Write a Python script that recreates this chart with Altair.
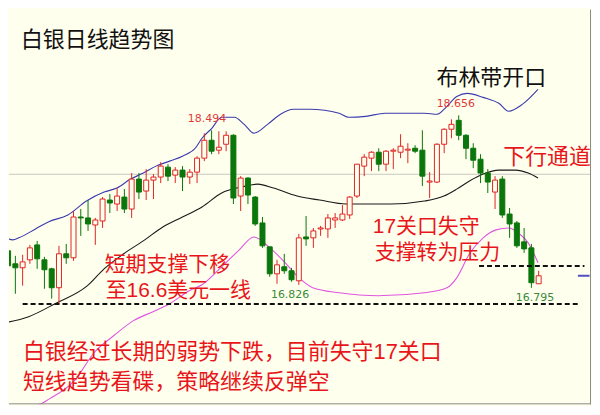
import altair as alt
import pandas as pd

BG = "#FFFFEE"
RED = "#E02424"
GREEN = "#0B760B"
TXT_RED = "#E8161B"
FONT = "Liberation Sans, Noto Sans CJK SC"

# ---- daily candles (price) ----
opens = [17.194, 17.054, 17.011, 17.097, 17.258, 17.097, 17.000, 16.796, 17.162, 17.119,
         17.559, 17.549, 17.473, 17.516, 17.742, 17.699, 17.774, 17.645, 17.968, 17.839,
         17.957, 17.990, 18.097, 18.011, 18.065, 17.990, 18.043, 18.194, 18.387, 18.280,
         18.344, 18.441, 17.785, 17.979, 17.774, 17.495, 17.237, 16.946, 17.022, 16.979,
         16.871, 17.344, 17.334, 17.430, 17.430, 17.527, 17.527, 17.581, 17.785, 18.108,
         18.194, 18.258, 18.129, 18.269, 18.258, 18.280, 18.301, 18.280, 17.936, 17.936,
         18.344, 18.506, 18.602, 18.441, 18.301, 18.183, 18.033, 17.828, 17.968, 17.591,
         17.495, 17.291, 17.226, 16.839]
highs = [17.334, 17.140, 17.151, 17.258, 17.301, 17.129, 17.011, 17.248, 17.269, 17.624,
         17.645, 17.742, 17.549, 17.774, 17.807, 17.871, 17.860, 18.033, 18.033, 18.076,
         18.022, 18.151, 18.129, 18.097, 18.108, 18.076, 18.215, 18.463, 18.494, 18.484,
         18.484, 18.452, 18.000, 17.990, 17.785, 17.559, 17.237, 17.097, 17.162, 17.011,
         17.377, 17.570, 17.441, 17.463, 17.591, 17.602, 17.688, 17.785, 18.129, 18.237,
         18.269, 18.301, 18.280, 18.301, 18.452, 18.355, 18.334, 18.495, 18.043, 18.355,
         18.516, 18.613, 18.656, 18.452, 18.355, 18.237, 18.076, 18.000, 18.000, 17.656,
         17.516, 17.441, 17.269, 16.979]
lows = [17.000, 16.731, 16.818, 17.054, 17.000, 16.785, 16.678, 16.624, 17.054, 17.086,
        17.355, 17.409, 17.258, 17.441, 17.602, 17.624, 17.602, 17.549, 17.753, 17.742,
        17.753, 17.925, 17.947, 17.925, 17.839, 17.914, 17.925, 18.162, 18.237, 18.237,
        18.269, 17.699, 17.624, 17.699, 17.463, 17.226, 16.914, 16.839, 16.946, 16.861,
        16.826, 17.248, 17.226, 17.355, 17.334, 17.441, 17.516, 17.538, 17.764, 18.000,
        18.054, 18.054, 18.054, 18.076, 18.194, 18.140, 18.248, 17.893, 17.764, 17.925,
        18.248, 18.409, 18.387, 18.183, 18.086, 17.925, 17.818, 17.645, 17.549, 17.334,
        17.226, 17.172, 16.795, 16.839]
closes = [17.033, 17.011, 17.075, 17.226, 17.108, 16.990, 16.796, 17.162, 17.119, 17.559,
          17.549, 17.484, 17.527, 17.753, 17.710, 17.785, 17.645, 17.968, 17.828, 17.957,
          17.990, 18.108, 18.000, 18.065, 17.990, 18.043, 18.194, 18.387, 18.269, 18.312,
          18.441, 17.764, 17.979, 17.796, 17.484, 17.248, 16.946, 17.043, 16.979, 16.882,
          17.334, 17.323, 17.409, 17.441, 17.549, 17.549, 17.591, 17.774, 18.129, 18.205,
          18.258, 18.129, 18.269, 18.280, 18.323, 18.291, 18.269, 18.000, 17.947, 18.344,
          18.506, 18.559, 18.441, 18.301, 18.172, 18.033, 17.936, 17.957, 17.581, 17.484,
          17.248, 17.215, 16.850, 16.925]

# ---- Bollinger bands (candle index, price) ----
upper_i = [-0.27, 0.67, 1.48, 3.77, 5.53, 8.22, 10.78, 13.21, 14.96, 16.85, 18.60, 20.35,
           22.24, 23.99, 25.74, 26.68, 28.03, 29.38, 31.13, 32.48, 33.83, 35.71, 37.47,
           39.22, 41.51, 45.55, 46.90, 49.19, 51.89, 54.99, 57.28, 59.03, 60.38, 61.73,
           63.20, 65.36, 67.52, 68.87, 70.75, 72.91]
upper_p = [17.334, 17.312, 17.334, 17.430, 17.506, 17.581, 17.731, 17.828, 17.871, 17.968,
           18.033, 18.108, 18.162, 18.215, 18.301, 18.409, 18.516, 18.635, 18.635, 18.559,
           18.463, 18.559, 18.667, 18.721, 18.721, 18.678, 18.635, 18.645, 18.678, 18.678,
           18.678, 18.667, 18.753, 18.860, 18.893, 18.850, 18.786, 18.700, 18.774, 18.936]
mid_i = [-0.27, 2.83, 6.47, 10.92, 13.21, 15.90, 18.60, 21.29, 23.99, 26.68, 29.38, 32.08,
         34.37, 36.52, 39.76, 42.86, 46.50, 49.19, 52.70, 57.28, 59.97, 61.73, 63.48, 65.36,
         67.52, 69.81, 71.56, 72.91]
mid_p = [16.420, 16.484, 16.624, 16.818, 17.000, 17.162, 17.301, 17.452, 17.559, 17.667,
         17.818, 17.882, 17.914, 17.871, 17.785, 17.742, 17.699, 17.699, 17.699, 17.731,
         17.785, 17.860, 17.947, 18.022, 18.065, 18.065, 18.033, 17.979]
lower_i = [-0.27, 2.43, 5.80, 9.16, 11.86, 14.56, 17.25, 19.95, 22.24, 24.93, 26.68, 29.38,
           31.67, 33.83, 35.71, 37.87, 40.16, 41.91, 45.55, 50.94, 57.28, 60.38, 61.73,
           63.48, 65.36, 67.12, 68.87, 70.22, 71.56, 72.91]
lower_p = [15.527, 15.484, 15.602, 15.796, 16.097, 16.280, 16.441, 16.538, 16.624, 16.764,
           16.828, 17.022, 17.194, 17.344, 17.248, 17.086, 16.893, 16.796, 16.742, 16.710,
           16.742, 16.796, 16.903, 17.162, 17.334, 17.420, 17.441, 17.387, 17.280, 17.065]

# ---- reference levels ----
grid_level = 18.02
support_level = 16.62
support_span = [2.0, 78.6]
lost_level = 17.03
lost_span = [64.8, 79.3]
last_price = 16.925
last_span = [78.4, 80.0]

# ---- price labels ----
hi_lab_i = [27.36, 61.6]
hi_lab_p = [18.494, 18.656]
hi_lab_t = ["18.494", "18.656"]
lo_lab_i = [38.8, 72.5]
lo_lab_p = [16.826, 16.795]
lo_lab_t = ["16.826", "16.795"]

# ---- scales ----
W, H = 584, 396
xs = alt.Scale(domain=[0.81, 0.81 + W / 7.42], nice=False, zero=False)
ys = alt.Scale(domain=[19.796 - H / 93.0, 19.796], nice=False, zero=False)

candles = pd.DataFrame({"i": list(range(len(opens))), "open": opens, "high": highs,
                        "low": lows, "close": closes})
is_up = "datum.close > datum.open"


def X(f="i"):
    return alt.X(f"{f}:Q", scale=xs, axis=None)


def Y(f="p"):
    return alt.Y(f"{f}:Q", scale=ys, axis=None)


layers = []

# gray horizontal line
layers.append(alt.Chart(pd.DataFrame({"p": [grid_level]})).mark_rule(
    color="#C9C9C2", strokeWidth=1).encode(y=Y()))

# bands
for bi, bp, col in [(upper_i, upper_p, "#3B3BAE"), (mid_i, mid_p, "#1A1A1A"),
                    (lower_i, lower_p, "#E055E0")]:
    layers.append(alt.Chart(pd.DataFrame({"i": bi, "p": bp})).mark_line(
        color=col, strokeWidth=1.1, clip=True, interpolate="monotone").encode(x=X(), y=Y()))

# wicks
layers.append(alt.Chart(candles).mark_rule(strokeWidth=1, clip=True).encode(
    x=X(), y=Y("low"), y2="high",
    color=alt.condition(is_up, alt.value(RED), alt.value(GREEN))))

# bodies
layers.append(alt.Chart(candles).mark_bar(size=5, strokeWidth=1, clip=True).encode(
    x=X(), y=Y("open"), y2="close",
    fill=alt.condition(is_up, alt.value(BG), alt.value(GREEN)),
    stroke=alt.condition(is_up, alt.value(RED), alt.value(GREEN))))

# dashed support lines
for lvl, span in [(support_level, support_span), (lost_level, lost_span)]:
    layers.append(alt.Chart(pd.DataFrame({"i": [span[0]], "i2": [span[1]], "p": [lvl]})).mark_rule(
        color="#111111", strokeWidth=2, strokeDash=[5, 3], clip=True).encode(
        x=X(), x2="i2", y=Y()))

# last price marker
layers.append(alt.Chart(pd.DataFrame({"i": [last_span[0]], "i2": [last_span[1]], "p": [last_price]})).mark_rule(
    color="#5050C0", strokeWidth=2, clip=True).encode(x=X(), x2="i2", y=Y()))

# price labels
layers.append(alt.Chart(pd.DataFrame({"i": hi_lab_i, "p": hi_lab_p, "t": hi_lab_t})).mark_text(
    font="DejaVu Sans", fontSize=11, color="#E03A3A", dy=-11, baseline="middle").encode(
    x=X(), y=Y(), text="t:N"))
layers.append(alt.Chart(pd.DataFrame({"i": lo_lab_i, "p": lo_lab_p, "t": lo_lab_t})).mark_text(
    font="DejaVu Sans", fontSize=11, color="#3A8A3A", dy=10, baseline="middle").encode(
    x=X(), y=Y(), text="t:N"))

# annotation texts: (text, x px, y px, colour, size)
notes = [
    ("白银日线趋势图", 12, 30, "#111111", 22),
    ("布林带开口", 429, 69, "#111111", 22),
    ("下行通道", 496, 148, TXT_RED, 22),
    ("17关口失守", 365, 218, TXT_RED, 21),
    ("支撑转为压力", 367, 244, TXT_RED, 21),
    ("短期支撑下移", 96, 256, TXT_RED, 21),
    ("至16.6美元一线", 97, 282, TXT_RED, 21),
    ("白银经过长期的弱势下跌，目前失守17关口", 14, 344, TXT_RED, 22),
    ("短线趋势看碟，策略继续反弹空", 14, 374, TXT_RED, 22),
]
one = alt.Data(values=[{}])
for t, px, py, col, fs in notes:
    layers.append(alt.Chart(one).mark_text(
        text=t, font=FONT, fontSize=fs, color=col, align="left", baseline="middle").encode(
        x=alt.value(px), y=alt.value(py)))

# frame (right and bottom)
layers.append(alt.Chart(one).mark_rule(color="#8A8A8A", strokeWidth=1).encode(
    x=alt.value(W - 0.5), y=alt.value(0), y2=alt.value(H)))
layers.append(alt.Chart(one).mark_rule(color="#8A8A8A", strokeWidth=1).encode(
    x=alt.value(0), x2=alt.value(W), y=alt.value(H - 0.5)))

chart = alt.layer(*layers).properties(
    width=W, height=H, background=BG, padding=0
).configure_view(stroke=None, fill=BG)

chart.save("out.html", embed_options={"renderer": "svg", "actions": False})
